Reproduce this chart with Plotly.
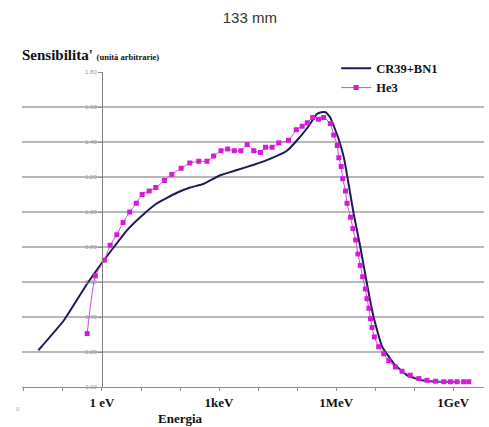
import plotly.graph_objects as go

# ---- data (log10 of energy in eV, sensitivity in arbitrary units) ----
cr39_logE = [-1.63, -0.98, -0.38, 0.0, 0.34, 0.64, 0.98, 1.41, 1.92, 2.26, 2.6, 3.03, 3.46, 3.89,
             4.32, 4.74, 5.0, 5.26, 5.51, 5.62, 5.73, 5.85, 5.96, 6.06, 6.2, 6.32, 6.45, 6.62, 6.79,
             6.96, 7.18, 7.48, 7.82, 8.16, 8.67, 9.1]
cr39_val = [0.21, 0.38, 0.59, 0.71, 0.81, 0.895, 0.97, 1.05, 1.11, 1.14, 1.16, 1.21, 1.24, 1.27,
            1.305, 1.35, 1.41, 1.48, 1.56, 1.57, 1.57, 1.54, 1.48, 1.42, 1.31, 1.16, 0.99, 0.80, 0.59,
            0.40, 0.23, 0.134, 0.067, 0.04, 0.03, 0.03]

he3_logE = [-0.38, -0.17, 0.06, 0.21, 0.38, 0.54, 0.71, 0.88, 1.03, 1.21, 1.38, 1.6, 1.79, 2.03,
            2.25, 2.48, 2.69, 2.86, 3.05, 3.22, 3.39, 3.56, 3.72, 3.89, 4.06, 4.19, 4.36, 4.53,
            4.78, 4.98, 5.13, 5.26, 5.40, 5.55, 5.68, 5.85, 5.94, 6.03, 6.07, 6.13, 6.17, 6.24,
            6.28, 6.37, 6.43, 6.5, 6.56, 6.62, 6.68, 6.75, 6.79, 6.84, 6.88, 6.92, 6.98, 7.09,
            7.22, 7.35, 7.52, 7.69, 7.9, 8.12, 8.33, 8.55, 8.76, 8.93, 9.1, 9.27, 9.4]
he3_val = [0.305, 0.635, 0.725, 0.81, 0.87, 0.94, 1.00, 1.05, 1.10, 1.12, 1.14, 1.18, 1.215, 1.25,
           1.28, 1.29, 1.29, 1.32, 1.35, 1.36, 1.35, 1.35, 1.385, 1.35, 1.34, 1.37, 1.37, 1.395,
           1.41, 1.47, 1.49, 1.51, 1.54, 1.53, 1.54, 1.505, 1.44, 1.38, 1.31, 1.26, 1.19, 1.12,
           1.05, 0.97, 0.905, 0.84, 0.76, 0.695, 0.63, 0.56, 0.505, 0.45, 0.39, 0.34, 0.286, 0.23,
           0.19, 0.15, 0.114, 0.09, 0.067, 0.048, 0.038, 0.033, 0.03, 0.03, 0.03, 0.03, 0.03]

x_tick_exp = list(range(-2, 10))
x_tick_labels = {0: "<b>1 eV</b>", 3: "<b>1keV</b>", 6: "<b>1MeV</b>", 9: "<b>1GeV</b>"}
y_ticks = [0.0, 0.2, 0.4, 0.6, 0.8, 1.0, 1.2, 1.4, 1.6, 1.8]
y_grid = [0.2, 0.4, 0.6, 0.8, 1.0, 1.2, 1.4, 1.6]

cr39_E = [10 ** e for e in cr39_logE]
he3_E = [10 ** e for e in he3_logE]

fig = go.Figure()
fig.add_trace(go.Scatter(
    x=cr39_E, y=cr39_val, mode="lines", name="<b>CR39+BN1</b>",
    line=dict(color="#1c1c55", width=2, shape="spline", smoothing=0.4)))
fig.add_trace(go.Scatter(
    x=he3_E, y=he3_val, mode="lines+markers", name="<b>He3</b>",
    line=dict(color="#e040e8", width=1, shape="spline", smoothing=0.6),
    marker=dict(symbol="square", size=5, color="#d61ad9")))

xrange = [-2.05, 9.79]
left_px, right_px = 22, 484
y_axis_pos = (0 - xrange[0]) / (xrange[1] - xrange[0])

for g in y_grid:
    fig.add_shape(type="line", xref="paper", yref="y", x0=0, x1=1, y0=g, y1=g,
                  line=dict(color="#a0a0a0", width=1.6), layer="below")

fig.update_layout(
    width=489, height=427,
    margin=dict(l=left_px, r=489 - right_px, t=72, b=40),
    paper_bgcolor="white", plot_bgcolor="white",
    title=dict(text="133 mm", x=0.511, xanchor="center", y=0.958, yanchor="middle",
               font=dict(family="Arial, Liberation Sans", size=15, color="#333333")),
    xaxis=dict(type="log", range=xrange, domain=[0, 1],
               tickvals=[10 ** e for e in x_tick_exp],
               ticktext=[x_tick_labels.get(e, "") for e in x_tick_exp],
               showgrid=False, zeroline=False, showline=True, linecolor="#909090", linewidth=1,
               ticks="outside", ticklen=3, tickcolor="#909090",
               tickfont=dict(family="Liberation Serif, Times New Roman", size=13, color="#111111")),
    yaxis=dict(range=[0, 1.8], anchor="free", position=y_axis_pos,
               tickvals=y_ticks, ticktext=[f"{v:.2f}" for v in y_ticks],
               showgrid=False, zeroline=False, showline=True, linecolor="#808080", linewidth=1,
               ticks="outside", ticklen=4, tickcolor="#909090",
               tickfont=dict(family="Arial, Liberation Sans", size=6, color="#999999")),
    showlegend=True,
    legend=dict(x=0.68, y=1.058, xanchor="left", yanchor="top", bgcolor="rgba(0,0,0,0)",
                tracegroupgap=0, itemwidth=30,
                font=dict(family="Liberation Serif, Times New Roman", size=12.5, color="#111111")),
)

fig.add_annotation(
    text="<b>Sensibilita'</b> <b><span style='font-size:8.5px'>(unità arbitrarie)</span></b>",
    xref="paper", yref="paper", x=-0.004, y=1.054, xanchor="left", yanchor="middle",
    showarrow=False, font=dict(family="Liberation Serif, Times New Roman", size=15, color="#111111"))
fig.add_annotation(
    text="<b>Energia</b>", xref="paper", yref="paper", x=0.344, y=-0.1, xanchor="center",
    yanchor="middle", showarrow=False,
    font=dict(family="Liberation Serif, Times New Roman", size=13, color="#111111"))
fig.add_annotation(
    text="0", xref="paper", yref="paper", x=-0.009, y=-0.07, xanchor="center", yanchor="middle",
    showarrow=False, font=dict(family="Arial", size=6, color="#aaaaaa"))

fig.write_html("out.html")
